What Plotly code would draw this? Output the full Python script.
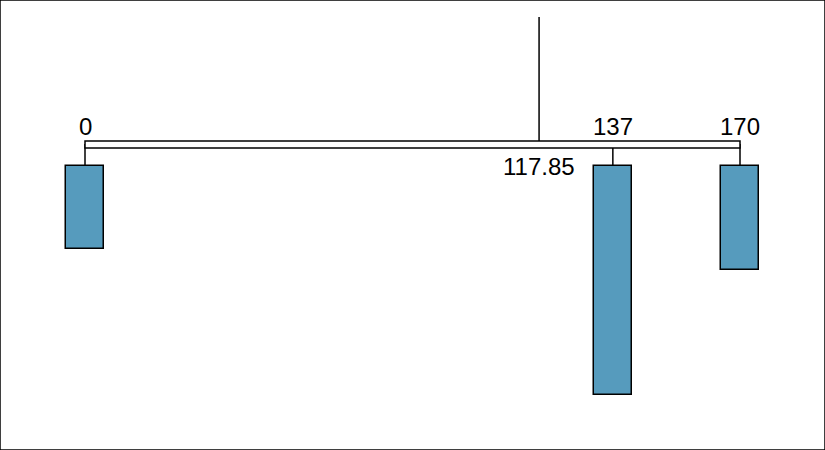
import plotly.graph_objects as go

values = [0, 137, 170]
counts = [4, 11, 5]
value_labels = ["0", "137", "170"]

mean = sum(v * c for v, c in zip(values, counts)) / sum(counts)

PX_PER_X = 655 / 170.0
X0_PX = 85
PX_PER_Y = 20.85
Y0_PX = 166
W, H = 825, 450

def xr(px):
    return (px - X0_PX) / PX_PER_X

def yr(px):
    return (Y0_PX - px) / PX_PER_Y

fig = go.Figure()
fig.add_trace(go.Bar(
    x=values, y=[-c for c in counts], base=0, width=10,
    marker=dict(color="#569BBD", line=dict(color="black", width=1.5)),
    hoverinfo="skip", showlegend=False,
))

beam_top = yr(141)
beam_bot = yr(148)
shapes = []
for v in values:
    shapes.append(dict(type="line", xref="x", yref="y", x0=v, x1=v, y0=yr(144), y1=0,
                       line=dict(color="black", width=1.5)))
shapes.append(dict(type="rect", xref="x", yref="y", x0=min(values), x1=max(values),
                   y0=beam_bot, y1=beam_top, fillcolor="white",
                   line=dict(color="black", width=1.5)))
shapes.append(dict(type="line", xref="x", yref="y", x0=mean, x1=mean, y0=beam_top, y1=yr(17),
                   line=dict(color="black", width=1.5)))
shapes.append(dict(type="rect", xref="paper", yref="paper", x0=0, x1=1, y0=0, y1=1,
                   line=dict(color="black", width=1.5), fillcolor="rgba(0,0,0,0)"))

font = dict(family="Liberation Sans, Arial, Helvetica, sans-serif", size=24, color="black")
annotations = []
for v, lab in zip(values, value_labels):
    annotations.append(dict(x=v, y=yr(126), xref="x", yref="y", text=lab, showarrow=False,
                            xanchor="center", yanchor="middle", font=font))
annotations.append(dict(x=mean, y=yr(166), xref="x", yref="y", text=f"{mean:.2f}", showarrow=False,
                        xanchor="center", yanchor="middle", font=font))

fig.update_layout(
    width=W, height=H,
    margin=dict(l=0, r=0, t=0, b=0),
    paper_bgcolor="white", plot_bgcolor="white",
    xaxis=dict(range=[xr(0), xr(W)], visible=False, fixedrange=True),
    yaxis=dict(range=[yr(H), yr(0)], visible=False, fixedrange=True),
    shapes=shapes, annotations=annotations,
    bargap=0,
)

fig.write_html("out.html", config={"displayModeBar": False},
               post_script="document.body.style.margin='0px';document.body.style.overflow='hidden';")
